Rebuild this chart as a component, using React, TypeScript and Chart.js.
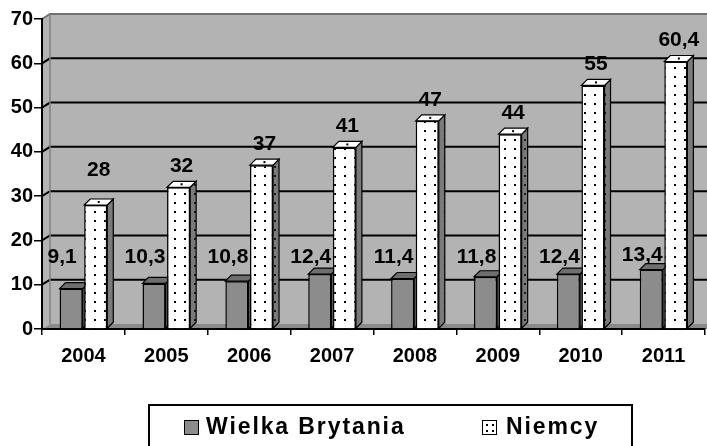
import React, { useEffect, useRef } from "react";
import { Chart, registerables } from "chart.js";

Chart.register(...registerables);

const categories = ["2004", "2005", "2006", "2007", "2008", "2009", "2010", "2011"];
const ukValues = [9.1, 10.3, 10.8, 12.4, 11.4, 11.8, 12.4, 13.4];
const deValues = [28, 32, 37, 41, 47, 44, 55, 60.4];
const seriesNames = ["Wielka Brytania", "Niemcy"];
const yMin = 0;
const yMax = 70;
const yStep = 10;
// lowest level (in axis units) at which each series' value labels sit
const ukLabelFloor = 16.25;
const deLabelFloor = 35.9;

const FONT = "'Liberation Sans', Arial, Helvetica, sans-serif";
const WALL = "#b3b3b3";
const FLOOR = "#8a8a8a";
const UK_FRONT = "#8c8c8c";
const UK_TOP = "#6e6e6e";
const UK_SIDE = "#5e5e5e";

const DX = 8; // back wall depth
const DY = -5;
const BDX = 6; // bar depth
const BDY = -6;

const fmt = (v: number) => String(v).replace(".", ",");

function makeDots(bg: string, dot: string) {
  const c = document.createElement("canvas");
  c.width = 10;
  c.height = 9;
  const x = c.getContext("2d")!;
  x.fillStyle = bg;
  x.fillRect(0, 0, 10, 9);
  x.fillStyle = dot;
  x.fillRect(4, 4, 2, 2);
  return x.createPattern(c, "repeat")!;
}

function poly(ctx: CanvasRenderingContext2D, pts: number[][], fill: any, stroke?: string, lw = 1) {
  ctx.beginPath();
  ctx.moveTo(pts[0][0], pts[0][1]);
  for (let i = 1; i < pts.length; i++) ctx.lineTo(pts[i][0], pts[i][1]);
  ctx.closePath();
  if (fill) {
    ctx.fillStyle = fill;
    ctx.fill();
  }
  if (stroke) {
    ctx.strokeStyle = stroke;
    ctx.lineWidth = lw;
    ctx.stroke();
  }
}

export default function App() {
  const ref = useRef<HTMLCanvasElement>(null);

  useEffect(() => {
    const canvas = ref.current!;
    const dotWhite = makeDots("#ffffff", "#000000");
    const dotGray = makeDots("#7a7a7a", "#1a1a1a");

    const threeD = {
      id: "threeD",
      beforeDraw(chart: any) {
        const { ctx, chartArea, scales } = chart;
        const { left, right, top, bottom } = chartArea;
        const y = scales.y;
        ctx.save();
        ctx.fillStyle = WALL;
        ctx.fillRect(left + DX, top + DY, right - left + 20, bottom - top);
        poly(ctx, [[left, top], [left + DX, top + DY], [left + DX, bottom + DY], [left, bottom]], WALL);
        poly(ctx, [[left, bottom], [left + DX, bottom + DY], [right + DX + 20, bottom + DY], [right + 20, bottom]], FLOOR);
        for (let v = yMin + yStep; v <= yMax; v += yStep) {
          const yy = y.getPixelForValue(v);
          ctx.beginPath();
          ctx.moveTo(left, yy);
          ctx.lineTo(left + DX, yy + DY);
          ctx.lineTo(right + DX + 20, yy + DY);
          ctx.strokeStyle = v === yMax ? "#707070" : "#000000";
          ctx.lineWidth = 2;
          ctx.stroke();
        }
        ctx.beginPath();
        ctx.moveTo(left + DX, top + DY);
        ctx.lineTo(left + DX, bottom + DY);
        ctx.strokeStyle = "#808080";
        ctx.lineWidth = 1.5;
        ctx.stroke();
        ctx.restore();
      },
      beforeDatasetsDraw(chart: any) {
        const { ctx } = chart;
        ctx.save();
        for (let d = 0; d < 2; d++) {
          const meta = chart.getDatasetMeta(d);
          meta.data.forEach((bar: any) => {
            const { x, y, base, width } = bar.getProps(["x", "y", "base", "width"], true);
            const x1 = x - width / 2;
            const x2 = x + width / 2;
            poly(
              ctx,
              [[x2, y], [x2 + BDX, y + BDY], [x2 + BDX, base + BDY], [x2, base]],
              d === 0 ? UK_SIDE : dotGray,
              "#000",
              1.2
            );
            poly(
              ctx,
              [[x1, y], [x1 + BDX, y + BDY], [x2 + BDX, y + BDY], [x2, y]],
              d === 0 ? UK_TOP : "#ffffff",
              "#000",
              1.2
            );
            if (d === 1) {
              ctx.fillStyle = "#000";
              ctx.fillRect(x + BDX / 2 - 1, y + BDY / 2 - 1, 2, 2);
            }
          });
        }
        ctx.restore();
      },
      beforeDatasetDraw(chart: any, args: any) {
        if (args.index !== 1) return;
        const { ctx, scales } = chart;
        const meta = chart.getDatasetMeta(0);
        const floorY = scales.y.getPixelForValue(ukLabelFloor);
        ctx.save();
        ctx.font = `bold 21px ${FONT}`;
        ctx.fillStyle = "#000";
        ctx.textAlign = "center";
        ctx.textBaseline = "middle";
        meta.data.forEach((bar: any, i: number) => {
          const { x, y } = bar.getProps(["x", "y"], true);
          const ly = Math.min(y - 14, floorY);
          ctx.fillText(fmt(ukValues[i]), x - 9, ly);
        });
        ctx.restore();
      },
      afterDatasetsDraw(chart: any) {
        const { ctx, scales } = chart;
        const meta = chart.getDatasetMeta(1);
        const floorY = scales.y.getPixelForValue(deLabelFloor);
        ctx.save();
        ctx.font = `bold 21px ${FONT}`;
        ctx.fillStyle = "#000";
        ctx.textAlign = "center";
        ctx.textBaseline = "middle";
        meta.data.forEach((bar: any, i: number) => {
          const { x, y } = bar.getProps(["x", "y"], true);
          const ly = Math.min(y - 21, floorY);
          ctx.fillText(fmt(deValues[i]), x + 3, ly);
        });
        ctx.restore();
      },
    };

    const chart = new Chart(canvas, {
      type: "bar",
      data: {
        labels: categories,
        datasets: [
          {
            label: seriesNames[0],
            data: ukValues,
            backgroundColor: UK_FRONT,
            borderColor: "#000",
            borderWidth: 1.5,
          },
          {
            label: seriesNames[1],
            data: deValues,
            backgroundColor: dotWhite as any,
            borderColor: "#000",
            borderWidth: 1.5,
          },
        ],
      },
      options: {
        responsive: false,
        animation: false,
        events: [],
        layout: { padding: { top: 19, right: 2, bottom: 77, left: 0 } },
        datasets: { bar: { categoryPercentage: 0.593, barPercentage: 0.94 } },
        plugins: { legend: { display: false }, tooltip: { enabled: false } },
        scales: {
          x: {
            grid: { drawOnChartArea: false, offset: true, tickLength: 6, color: "#000", lineWidth: 1.5 },
            border: { color: "#000", width: 2 },
            ticks: { font: { family: FONT, size: 20, weight: "bold" }, color: "#000", padding: 9 },
            afterFit: (s: any) => {
              s.height = 40;
            },
          },
          y: {
            min: yMin,
            max: yMax,
            ticks: { stepSize: yStep, font: { family: FONT, size: 20, weight: "bold" }, color: "#000", padding: 1 },
            grid: { drawOnChartArea: false, tickLength: 8, color: "#000", lineWidth: 1.5 },
            border: { color: "#000", width: 2 },
            afterFit: (s: any) => {
              s.width = 42;
            },
          },
        },
      } as any,
      plugins: [threeD],
    });
    return () => chart.destroy();
  }, []);

  const textStyle: React.CSSProperties = {
    position: "absolute",
    top: 415,
    fontFamily: FONT,
    fontWeight: "bold",
    fontSize: 23,
    lineHeight: "23px",
    letterSpacing: "1.9px",
    whiteSpace: "nowrap",
    color: "#000",
  };

  return (
    <div style={{ position: "fixed", left: 0, top: 0, width: 707, height: 446, background: "#fff", overflow: "hidden" }}>
      <canvas ref={ref} width={707} height={446} style={{ position: "absolute", left: 0, top: 0 }} />
      <div
        style={{
          position: "absolute",
          left: 148,
          top: 404,
          width: 485,
          height: 60,
          border: "2px solid #000",
          boxSizing: "border-box",
        }}
      />
      <div
        style={{
          position: "absolute",
          left: 184,
          top: 420,
          width: 15,
          height: 15,
          background: UK_FRONT,
          border: "1px solid #000",
          boxSizing: "border-box",
        }}
      />
      <span style={{ ...textStyle, left: 206 }}>{seriesNames[0]}</span>
      <div
        style={{
          position: "absolute",
          left: 482,
          top: 420,
          width: 15,
          height: 15,
          background: "#fff",
          border: "1.5px solid #000",
          boxSizing: "border-box",
          backgroundImage: "radial-gradient(circle, #000 0.9px, transparent 1.3px)",
          backgroundSize: "6px 6px",
          backgroundPosition: "1px 1px",
        }}
      />
      <span style={{ ...textStyle, left: 506 }}>{seriesNames[1]}</span>
    </div>
  );
}
